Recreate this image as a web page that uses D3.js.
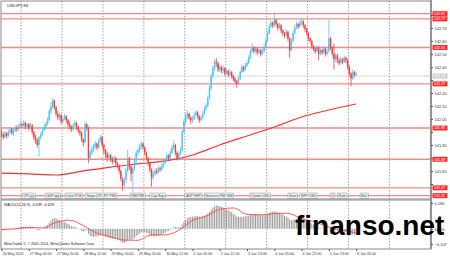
<!DOCTYPE html>
<html lang="en">
<head>
<meta charset="UTF-8">
<title>USDJPY,H1</title>
<style>
  body { margin: 0; background: #fff; }
  svg { display: block; font-family: "Liberation Sans", Arial, sans-serif; }
</style>
</head>
<body>
<script src="https://d3js.org/d3.v7.min.js"></script>
<script>
// ---- data ----
const firstOpen = 141.90;
const closes = [
  141.88,141.86,141.89,141.87,141.90,141.92,141.89,141.91,141.93,141.92,
  141.94,141.96,141.95,141.97,141.94,141.96,141.93,141.95,141.90,141.86,
  141.84,141.80,141.86,141.88,141.91,141.94,141.96,141.99,142.06,142.10,
  142.14,142.09,142.04,142.01,142.03,141.98,142.00,142.02,141.99,141.96,
  141.94,141.92,141.95,141.97,141.94,141.91,141.89,141.84,141.82,141.96,
  141.93,141.70,141.74,141.77,141.79,141.81,141.78,141.83,141.86,141.80,
  141.76,141.73,141.70,141.72,141.69,141.67,141.70,141.66,141.64,141.60,
  141.54,141.49,141.53,141.60,141.70,141.63,141.58,141.62,141.68,141.74,
  141.76,141.79,141.81,141.78,141.74,141.70,141.66,141.61,141.55,141.58,
  141.60,141.59,141.62,141.61,141.64,141.66,141.68,141.72,141.70,141.74,
  141.78,141.80,141.74,141.70,141.73,141.76,141.90,141.98,142.02,142.04,
  142.01,141.99,142.00,142.03,142.05,142.02,141.99,142.01,142.04,142.08,
  142.10,142.16,142.24,142.33,142.39,142.44,142.43,142.38,142.40,142.37,
  142.39,142.35,142.37,142.34,142.36,142.33,142.31,142.29,142.27,142.31,
  142.36,142.40,142.38,142.41,142.43,142.47,142.52,142.55,142.52,142.54,
  142.51,142.53,142.50,142.52,142.55,142.60,142.66,142.71,142.74,142.72,
  142.76,142.73,142.70,142.72,142.68,142.66,142.64,142.67,142.62,142.53,
  142.60,142.66,142.70,142.73,142.71,142.74,142.75,142.72,142.69,142.66,
  142.62,142.60,142.56,142.54,142.52,142.55,142.50,142.53,142.51,142.54,
  142.50,142.52,142.62,142.55,142.50,142.46,142.49,142.45,142.43,142.46,
  142.44,142.47,142.45,142.40,142.35,142.31,142.36,142.34,142.35
];
const highs = [
  141.92,141.90,141.91,141.90,141.92,141.94,141.93,141.93,141.95,141.95,
  141.96,141.98,141.97,141.99,141.98,141.97,141.97,141.97,141.96,141.91,
  141.88,141.85,141.87,141.90,141.93,141.96,141.98,142.01,142.08,142.13,
  142.16,142.15,142.10,142.06,142.05,142.04,142.02,142.04,142.03,142.00,
  141.98,141.95,141.97,141.99,141.98,141.95,141.92,141.90,141.85,141.98,
  141.97,141.94,141.76,141.79,141.81,141.83,141.82,141.85,141.88,141.87,
  141.81,141.77,141.75,141.74,141.73,141.71,141.72,141.71,141.67,141.65,
  141.61,141.55,141.55,141.62,141.76,141.71,141.64,141.64,141.70,141.76,
  141.78,141.81,141.83,141.82,141.79,141.75,141.71,141.67,141.62,141.60,
  141.62,141.62,141.64,141.63,141.66,141.68,141.70,141.74,141.73,141.76,
  141.80,141.84,141.81,141.75,141.75,141.78,141.92,142.00,142.05,142.07,
  142.05,142.02,142.02,142.05,142.07,142.06,142.03,142.03,142.06,142.10,
  142.12,142.18,142.26,142.35,142.41,142.46,142.47,142.44,142.42,142.41,
  142.41,142.40,142.39,142.38,142.38,142.37,142.34,142.32,142.30,142.33,
  142.38,142.42,142.41,142.43,142.45,142.49,142.54,142.58,142.56,142.56,
  142.55,142.55,142.54,142.54,142.57,142.62,142.68,142.73,142.76,142.75,
  142.82,142.77,142.74,142.74,142.73,142.69,142.67,142.69,142.68,142.63,
  142.62,142.68,142.72,142.75,142.74,142.76,142.77,142.76,142.73,142.70,
  142.67,142.63,142.61,142.57,142.55,142.57,142.56,142.55,142.54,142.56,
  142.55,142.54,142.76,142.63,142.56,142.58,142.51,142.50,142.47,142.48,
  142.47,142.49,142.48,142.46,142.41,142.36,142.38,142.37,142.36
];
const lows = [
  141.86,141.84,141.85,141.85,141.86,141.88,141.88,141.87,141.90,141.90,
  141.91,141.93,141.93,141.94,141.92,141.93,141.91,141.92,141.88,141.84,
  141.81,141.78,141.71,141.84,141.87,141.90,141.92,141.95,141.98,142.04,
  142.08,142.07,142.02,141.99,141.99,141.96,141.97,141.99,141.97,141.94,
  141.92,141.90,141.91,141.94,141.92,141.89,141.87,141.82,141.79,141.81,
  141.91,141.66,141.68,141.72,141.75,141.77,141.76,141.77,141.82,141.78,
  141.73,141.70,141.67,141.68,141.67,141.65,141.66,141.64,141.62,141.58,
  141.52,141.45,141.47,141.51,141.59,141.61,141.52,141.44,141.60,141.66,
  141.72,141.74,141.77,141.76,141.72,141.68,141.64,141.59,141.48,141.53,
  141.56,141.57,141.58,141.59,141.60,141.62,141.65,141.67,141.68,141.69,
  141.73,141.76,141.72,141.68,141.69,141.72,141.75,141.89,141.96,142.00,
  141.99,141.96,141.97,141.99,142.02,142.00,141.97,141.98,142.00,142.03,
  142.06,142.09,142.15,142.22,142.31,142.37,142.40,142.36,142.36,142.35,
  142.35,142.33,142.34,142.32,142.33,142.31,142.29,142.27,142.24,142.26,
  142.30,142.35,142.36,142.37,142.40,142.42,142.46,142.51,142.50,142.51,
  142.49,142.50,142.48,142.49,142.51,142.54,142.59,142.65,142.70,142.70,
  142.71,142.71,142.68,142.69,142.66,142.64,142.62,142.63,142.60,142.47,
  142.52,142.59,142.65,142.69,142.69,142.70,142.72,142.70,142.67,142.64,
  142.60,142.58,142.54,142.52,142.50,142.51,142.45,142.49,142.49,142.50,
  142.48,142.49,142.51,142.53,142.48,142.38,142.44,142.43,142.41,142.42,
  142.42,142.43,142.43,142.38,142.33,142.25,142.30,142.32,142.33
];
// moving average, sampled every 16 bars
const maBars = [0, 16, 32, 48, 64, 80, 96, 112, 128, 144, 160, 176, 192, 208];
const maValues = [141.584, 141.577, 141.569, 141.600, 141.630, 141.654, 141.677,
                  141.723, 141.800, 141.869, 141.938, 142.015, 142.069, 142.115];
// MACD(12,26,9) histogram, one per bar
const macdValues = [
  -0.010,-0.010,-0.010,-0.010,-0.005,0.000,0.000,0.003,0.005,0.006,
  0.008,0.010,0.012,0.014,0.013,0.014,0.012,0.012,0.008,0.002,
  -0.003,-0.010,-0.008,-0.005,0.000,0.008,0.016,0.025,0.040,0.055,
  0.070,0.075,0.072,0.066,0.062,0.055,0.050,0.046,0.040,0.033,
  0.025,0.018,0.015,0.013,0.008,0.002,-0.004,-0.012,-0.020,-0.012,
  -0.010,-0.035,-0.048,-0.053,-0.055,-0.053,-0.054,-0.050,-0.044,-0.045,
  -0.049,-0.054,-0.060,-0.062,-0.066,-0.070,-0.069,-0.072,-0.075,-0.080,
  -0.088,-0.097,-0.098,-0.093,-0.080,-0.076,-0.077,-0.073,-0.064,-0.052,
  -0.043,-0.033,-0.025,-0.022,-0.023,-0.027,-0.032,-0.040,-0.050,-0.052,
  -0.052,-0.051,-0.047,-0.044,-0.039,-0.033,-0.027,-0.018,-0.014,-0.007,
  0.002,0.010,0.012,0.010,0.011,0.014,0.030,0.048,0.062,0.074,
  0.080,0.082,0.084,0.087,0.090,0.089,0.086,0.085,0.087,0.092,
  0.097,0.106,0.118,0.134,0.148,0.158,0.163,0.160,0.158,0.152,
  0.148,0.140,0.135,0.128,0.122,0.115,0.106,0.097,0.087,0.083,
  0.083,0.085,0.085,0.087,0.088,0.091,0.096,0.101,0.102,0.103,
  0.100,0.099,0.096,0.094,0.094,0.097,0.104,0.112,0.118,0.119,
  0.122,0.120,0.115,0.112,0.106,0.099,0.091,0.087,0.079,0.065,
  0.060,0.062,0.066,0.070,0.070,0.072,0.073,0.071,0.067,0.061,
  0.053,0.046,0.037,0.029,0.021,0.017,0.009,0.005,0.001,0.000,
  -0.004,-0.005,0.003,0.002,-0.004,-0.010,-0.012,-0.016,-0.020,-0.020,
  -0.022,-0.021,-0.022,-0.026,-0.033,-0.041,-0.040,-0.040,-0.039
];
// signal line, sampled every 8 bars
const signalBars = d3.range(0, 209, 8);
const signalValues = [-0.005, 0.000, 0.010, 0.006, 0.045, 0.060, 0.022, -0.030, -0.055,
  -0.078, -0.080, -0.042, -0.042, -0.010, 0.058, 0.088, 0.135, 0.145, 0.100, 0.097,
  0.105, 0.108, 0.070, 0.048, 0.012, -0.008, -0.028];

const levels = [142.81, 142.77, 142.55, 142.27, 141.93, 141.69, 141.47, 141.41];
const lastPrice = 142.33;
const priceTicks = [141.50, 141.60, 141.70, 141.80, 141.90, 142.00, 142.10,
                    142.20, 142.30, 142.40, 142.50, 142.60, 142.70, 142.80];
const macdTicks = [0.180, 0.000, -0.107];
const labelBars = d3.range(0, 209, 16);
const timeLabels = ["24 May 2024", "27 May 04:00", "27 May 20:00", "28 May 12:00",
  "29 May 04:00", "29 May 20:00", "30 May 12:00", "2 Jun 05:00", "2 Jun 21:00",
  "3 Jun 13:00", "4 Jun 05:00", "4 Jun 21:00", "5 Jun 13:00", "6 Jun 05:00"];
const eventBars = [12, 25.5, 37.3, 49, 75.4, 87, 107.6, 119, 145.7, 168, 175, 192.7, 197, 210.3];
const eventTexts = ["CPI y/y", "GDP q/q", "Core PCE", "Tokyo CPI JPY PMI", "ISM PMI",
  "Cap Exp", "ADP NFP", "Services PMI ISM", "Claims USD", "Earn", "NFP USD", "U", "Rate", "BoJ"];

// ---- layout ----
const W = 450, H = 258;
const plotRight = 431;
const mainBottom = 199, macdTop = 200, macdBottom = 249;

const svg = d3.select("body").append("svg")
    .attr("width", W).attr("height", H);

const x = d3.scaleLinear().domain([0, 252]).range([1.5, 1.5 + 252 * 1.705]);
const y = d3.scaleLinear().domain([141.40, 142.915]).range([196.95, 0]);
const yM = d3.scaleLinear().domain([-0.14, 0.20]).range([macdBottom, macdTop]);

svg.append("clipPath").attr("id", "clipMain")
    .append("rect").attr("x", 1).attr("y", 1).attr("width", plotRight - 1).attr("height", mainBottom - 1);
svg.append("clipPath").attr("id", "clipMacd")
    .append("rect").attr("x", 1).attr("y", macdTop).attr("width", plotRight - 1).attr("height", macdBottom - macdTop);

// vertical dashed grid across both panes
svg.append("g").selectAll("line")
    .data(d3.range(11.5, 252, 24))
    .enter().append("line")
    .attr("x1", d => x(d)).attr("x2", d => x(d))
    .attr("y1", 1).attr("y2", macdBottom)
    .attr("stroke", "#8c8c8c").attr("stroke-width", 0.8)
    .attr("stroke-dasharray", "1.5,1.5");

const main = svg.append("g").attr("clip-path", "url(#clipMain)");

// last price line
main.append("line")
    .attr("x1", 0).attr("x2", plotRight)
    .attr("y1", y(lastPrice)).attr("y2", y(lastPrice))
    .attr("stroke", "#d4d4d4").attr("stroke-width", 1);

// horizontal levels
main.selectAll(".lvl")
    .data(levels)
    .enter().append("line")
    .attr("x1", 0).attr("x2", plotRight)
    .attr("y1", d => y(d)).attr("y2", d => y(d))
    .attr("stroke", "#ff8585").attr("stroke-width", 1.4);

// moving average
main.append("path")
    .datum(maBars.map((b, i) => [b, maValues[i]]))
    .attr("fill", "none")
    .attr("stroke", "#ff3030")
    .attr("stroke-width", 1.2)
    .attr("d", d3.line().curve(d3.curveMonotoneX).x(d => x(d[0])).y(d => y(d[1])));

// candles
const bars = closes.map((c, i) => ({
    i: i, o: i ? closes[i - 1] : firstOpen, c: c, h: highs[i], l: lows[i]
}));
const colour = d => d.c > d.o ? "#46c8f5" : (d.c < d.o ? "#ff3a3a" : "#999999");

main.selectAll(".wick")
    .data(bars)
    .enter().append("line")
    .attr("x1", d => x(d.i)).attr("x2", d => x(d.i))
    .attr("y1", d => y(d.h)).attr("y2", d => y(d.l))
    .attr("stroke", colour).attr("stroke-width", 0.8);

main.selectAll(".body")
    .data(bars)
    .enter().append("rect")
    .attr("x", d => x(d.i) - 0.7)
    .attr("width", 1.4)
    .attr("y", d => y(Math.max(d.o, d.c)))
    .attr("height", d => Math.max(0.8, Math.abs(y(d.o) - y(d.c))))
    .attr("fill", colour);

// calendar event boxes
const ev = main.selectAll(".ev")
    .data(eventBars.map((b, i) => ({ b: b, t: eventTexts[i] })))
    .enter().append("g")
    .attr("transform", d => "translate(" + x(d.b) + ",193)");
ev.append("rect")
    .attr("height", 5.5)
    .attr("fill", "#eef2f2").attr("stroke", "#8a9898").attr("stroke-width", 0.5);
ev.append("text")
    .attr("x", 1.2).attr("y", 4.2)
    .attr("font-size", "3.4px").attr("fill", "#445")
    .text(d => d.t);
ev.each(function () {
    const g = d3.select(this);
    const w = g.select("text").node().getComputedTextLength();
    g.select("rect").attr("width", w + 2.4);
});

// chart title
svg.append("text").attr("x", 7).attr("y", 6.5)
    .attr("font-size", "4px").attr("fill", "#222").text("USDJPY,H1");

// MACD pane
const macd = svg.append("g").attr("clip-path", "url(#clipMacd)");
macd.selectAll(".hist")
    .data(macdValues)
    .enter().append("line")
    .attr("x1", (d, i) => x(i)).attr("x2", (d, i) => x(i))
    .attr("y1", yM(0)).attr("y2", d => yM(d))
    .attr("stroke", "#9a9a9a").attr("stroke-width", 1);
macd.append("path")
    .datum(signalBars.map((b, i) => [b, signalValues[i]]))
    .attr("fill", "none")
    .attr("stroke", "#ff4a4a")
    .attr("stroke-width", 0.9)
    .attr("d", d3.line().curve(d3.curveMonotoneX).x(d => x(d[0])).y(d => yM(d[1])));

svg.append("text").attr("x", 4).attr("y", 206)
    .attr("font-size", "3.8px").attr("fill", "#222")
    .text("MACD(12,26,9) -0.039 -0.028");
svg.append("text").attr("x", 4).attr("y", 245)
    .attr("font-size", "3.6px").attr("fill", "#222")
    .text("MetaTrader 5, © 2001-2014, MetaQuotes Software Corp.");

// frames
const frame = svg.append("g").attr("fill", "none").attr("stroke", "#8a8a8a");
frame.append("rect").attr("x", 1).attr("y", 1).attr("width", plotRight - 1).attr("height", mainBottom - 1).attr("stroke-width", 1);
frame.append("rect").attr("x", 1).attr("y", macdTop).attr("width", plotRight - 1).attr("height", macdBottom - macdTop).attr("stroke-width", 1);
frame.append("line").attr("x1", plotRight).attr("x2", plotRight).attr("y1", 0).attr("y2", macdBottom).attr("stroke-width", 1.6);

// price axis; tick labels hidden where a level tag sits on top of them
const tagged = levels.concat([lastPrice]);
const pAxis = svg.append("g")
    .attr("transform", "translate(" + plotRight + ",0)")
    .call(d3.axisRight(y).tickValues(priceTicks).tickSize(2).tickPadding(1.5).tickFormat(d3.format(".2f")));
pAxis.select(".domain").remove();
pAxis.selectAll("text").attr("font-size", "4px").attr("fill", "#333")
    .style("display", d => tagged.some(t => Math.abs(y(t) - y(d)) < 5) ? "none" : null);
pAxis.selectAll("line").attr("stroke", "#555");

// level labels on the price axis
const lab = svg.append("g").selectAll("g")
    .data(levels)
    .enter().append("g")
    .attr("transform", d => "translate(" + (plotRight + 1.5) + "," + y(d) + ")");
lab.append("rect").attr("x", 0).attr("y", -2.5).attr("width", 15).attr("height", 5).attr("fill", "#ff2a2a");
lab.append("text").attr("x", 1.4).attr("y", 1.4).attr("font-size", "3.7px").attr("fill", "#fff")
    .text(d => d.toFixed(2));
const cur = svg.append("g").attr("transform", "translate(" + (plotRight + 1.5) + "," + y(lastPrice) + ")");
cur.append("rect").attr("x", 0).attr("y", -2.5).attr("width", 15).attr("height", 5).attr("fill", "#cfcfcf");
cur.append("text").attr("x", 1.4).attr("y", 1.4).attr("font-size", "3.7px").attr("fill", "#fff")
    .text(lastPrice.toFixed(2));

// MACD axis
const mAxis = svg.append("g")
    .attr("transform", "translate(" + plotRight + ",0)")
    .call(d3.axisRight(yM).tickValues(macdTicks).tickSize(2).tickPadding(1.5).tickFormat(d3.format(".3f")));
mAxis.select(".domain").remove();
mAxis.selectAll("text").attr("font-size", "4px").attr("fill", "#333");
mAxis.selectAll("line").attr("stroke", "#555");

// time axis
const tAxis = svg.append("g")
    .attr("transform", "translate(0," + macdBottom + ")")
    .call(d3.axisBottom(x).tickValues(labelBars).tickSize(2).tickPadding(1)
        .tickFormat((d, i) => timeLabels[i]));
tAxis.select(".domain").remove();
tAxis.selectAll("text").attr("font-size", "3.6px").attr("fill", "#333")
    .attr("text-anchor", "start").attr("dx", "0.5");
tAxis.selectAll("line").attr("stroke", "#555");

// watermark
svg.append("text")
    .attr("x", 295).attr("y", 235)
    .attr("font-size", "28px").attr("font-weight", "bold")
    .attr("fill", "#000")
    .text("finanso.net");
</script>
</body>
</html>
